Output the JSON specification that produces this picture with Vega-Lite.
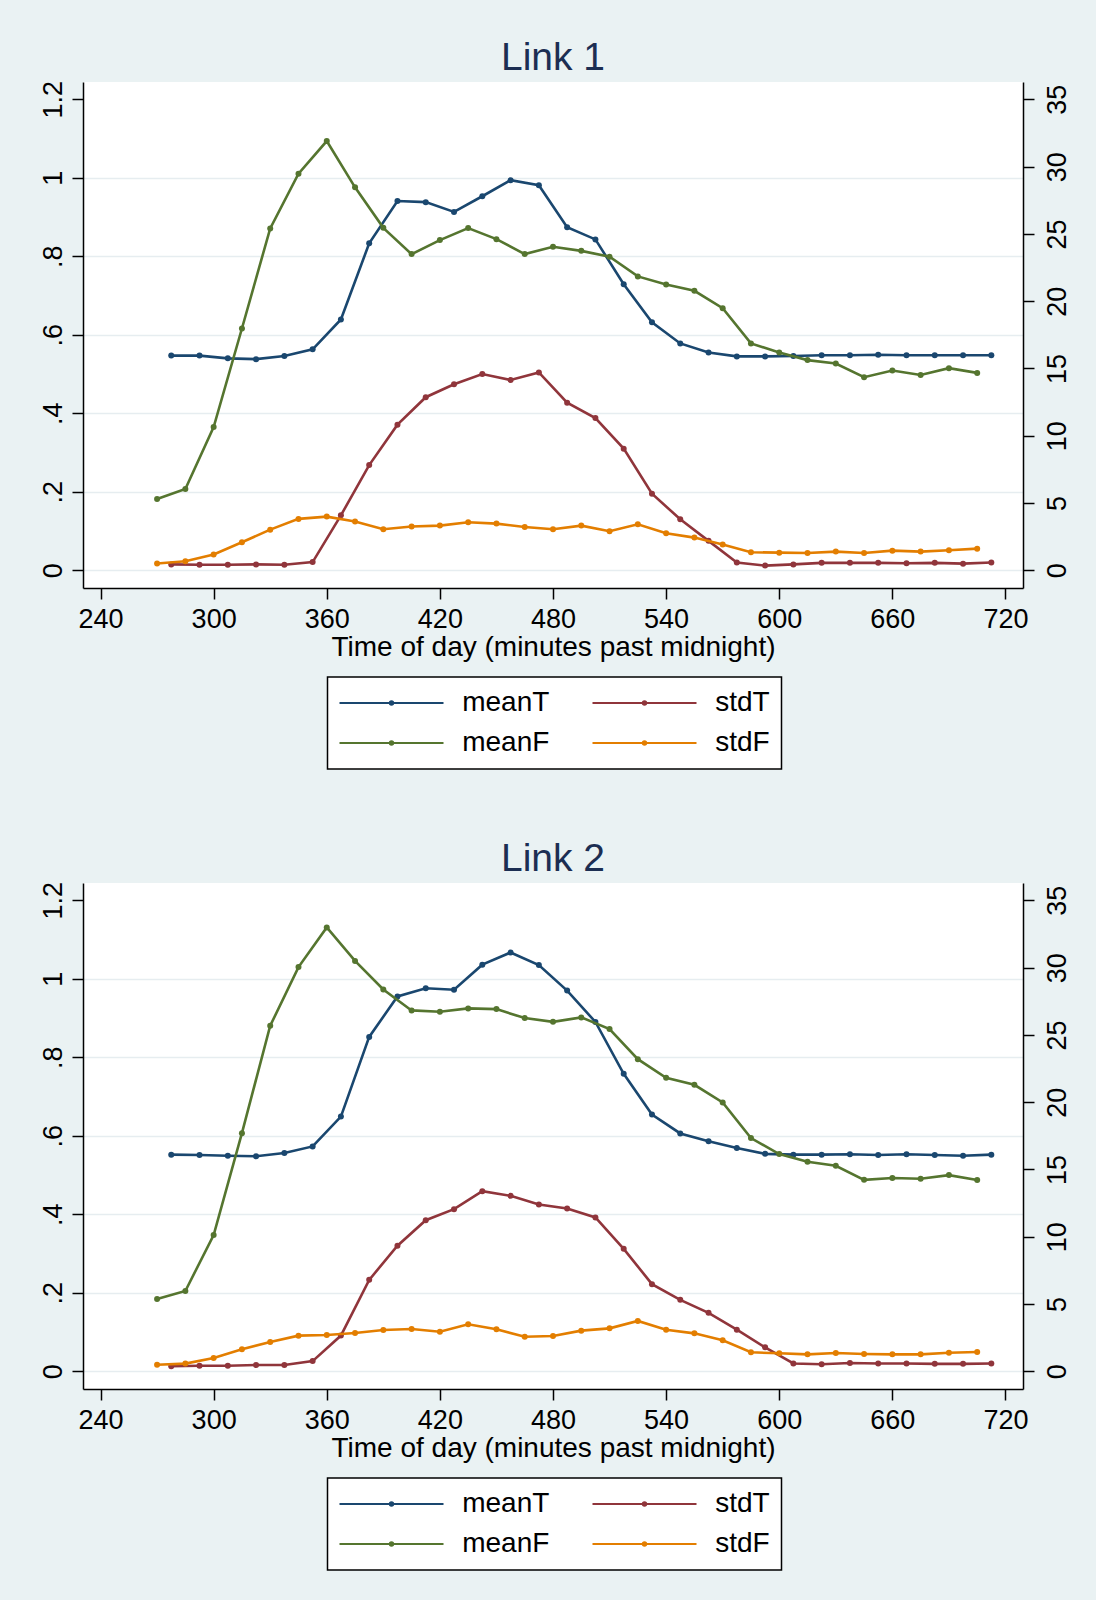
{
  "$schema": "https://vega.github.io/schema/vega-lite/v6.json",
  "background": "#EAF2F3",
  "padding": {"left": 39, "top": 38, "right": 60, "bottom": 60},
  "datasets": {
    "l1T": [
      {"t": 277.5, "meanT": 0.547, "stdT": 0.015}, {"t": 292.5, "meanT": 0.547, "stdT": 0.014},
      {"t": 307.5, "meanT": 0.540, "stdT": 0.014}, {"t": 322.5, "meanT": 0.538, "stdT": 0.015},
      {"t": 337.5, "meanT": 0.546, "stdT": 0.014}, {"t": 352.5, "meanT": 0.563, "stdT": 0.021},
      {"t": 367.5, "meanT": 0.639, "stdT": 0.140}, {"t": 382.5, "meanT": 0.833, "stdT": 0.268},
      {"t": 397.5, "meanT": 0.941, "stdT": 0.371}, {"t": 412.5, "meanT": 0.938, "stdT": 0.441},
      {"t": 427.5, "meanT": 0.913, "stdT": 0.474}, {"t": 442.5, "meanT": 0.953, "stdT": 0.500},
      {"t": 457.5, "meanT": 0.994, "stdT": 0.485}, {"t": 472.5, "meanT": 0.981, "stdT": 0.504},
      {"t": 487.5, "meanT": 0.874, "stdT": 0.427}, {"t": 502.5, "meanT": 0.843, "stdT": 0.388},
      {"t": 517.5, "meanT": 0.729, "stdT": 0.310}, {"t": 532.5, "meanT": 0.632, "stdT": 0.195},
      {"t": 547.5, "meanT": 0.578, "stdT": 0.130}, {"t": 562.5, "meanT": 0.555, "stdT": 0.075},
      {"t": 577.5, "meanT": 0.545, "stdT": 0.020}, {"t": 592.5, "meanT": 0.545, "stdT": 0.012},
      {"t": 607.5, "meanT": 0.546, "stdT": 0.015}, {"t": 622.5, "meanT": 0.548, "stdT": 0.019},
      {"t": 637.5, "meanT": 0.548, "stdT": 0.019}, {"t": 652.5, "meanT": 0.549, "stdT": 0.019},
      {"t": 667.5, "meanT": 0.548, "stdT": 0.018}, {"t": 682.5, "meanT": 0.548, "stdT": 0.019},
      {"t": 697.5, "meanT": 0.548, "stdT": 0.017}, {"t": 712.5, "meanT": 0.548, "stdT": 0.020}
    ],
    "l1F": [
      {"t": 270, "meanF": 5.30, "stdF": 0.50}, {"t": 285, "meanF": 6.04, "stdF": 0.67},
      {"t": 300, "meanF": 10.65, "stdF": 1.17}, {"t": 315, "meanF": 17.97, "stdF": 2.08},
      {"t": 330, "meanF": 25.41, "stdF": 3.02}, {"t": 345, "meanF": 29.47, "stdF": 3.82},
      {"t": 360, "meanF": 31.90, "stdF": 3.99}, {"t": 375, "meanF": 28.46, "stdF": 3.62},
      {"t": 390, "meanF": 25.45, "stdF": 3.05}, {"t": 405, "meanF": 23.50, "stdF": 3.25},
      {"t": 420, "meanF": 24.54, "stdF": 3.32}, {"t": 435, "meanF": 25.43, "stdF": 3.57},
      {"t": 450, "meanF": 24.61, "stdF": 3.47}, {"t": 465, "meanF": 23.50, "stdF": 3.22},
      {"t": 480, "meanF": 24.04, "stdF": 3.05}, {"t": 495, "meanF": 23.74, "stdF": 3.32},
      {"t": 510, "meanF": 23.30, "stdF": 2.90}, {"t": 525, "meanF": 21.84, "stdF": 3.42},
      {"t": 540, "meanF": 21.24, "stdF": 2.75}, {"t": 555, "meanF": 20.77, "stdF": 2.43},
      {"t": 570, "meanF": 19.48, "stdF": 1.91}, {"t": 585, "meanF": 16.86, "stdF": 1.34},
      {"t": 600, "meanF": 16.19, "stdF": 1.31}, {"t": 615, "meanF": 15.62, "stdF": 1.29},
      {"t": 630, "meanF": 15.37, "stdF": 1.39}, {"t": 645, "meanF": 14.35, "stdF": 1.29},
      {"t": 660, "meanF": 14.85, "stdF": 1.46}, {"t": 675, "meanF": 14.52, "stdF": 1.39},
      {"t": 690, "meanF": 15.02, "stdF": 1.49}, {"t": 705, "meanF": 14.67, "stdF": 1.61}
    ],
    "l2T": [
      {"t": 277.5, "meanT": 0.552, "stdT": 0.013}, {"t": 292.5, "meanT": 0.551, "stdT": 0.014},
      {"t": 307.5, "meanT": 0.549, "stdT": 0.014}, {"t": 322.5, "meanT": 0.548, "stdT": 0.016},
      {"t": 337.5, "meanT": 0.556, "stdT": 0.016}, {"t": 352.5, "meanT": 0.573, "stdT": 0.026},
      {"t": 367.5, "meanT": 0.649, "stdT": 0.091}, {"t": 382.5, "meanT": 0.852, "stdT": 0.233},
      {"t": 397.5, "meanT": 0.955, "stdT": 0.320}, {"t": 412.5, "meanT": 0.976, "stdT": 0.385},
      {"t": 427.5, "meanT": 0.972, "stdT": 0.413}, {"t": 442.5, "meanT": 1.036, "stdT": 0.459},
      {"t": 457.5, "meanT": 1.067, "stdT": 0.447}, {"t": 472.5, "meanT": 1.035, "stdT": 0.425},
      {"t": 487.5, "meanT": 0.970, "stdT": 0.415}, {"t": 502.5, "meanT": 0.890, "stdT": 0.392},
      {"t": 517.5, "meanT": 0.758, "stdT": 0.312}, {"t": 532.5, "meanT": 0.654, "stdT": 0.222},
      {"t": 547.5, "meanT": 0.606, "stdT": 0.182}, {"t": 562.5, "meanT": 0.586, "stdT": 0.149},
      {"t": 577.5, "meanT": 0.569, "stdT": 0.106}, {"t": 592.5, "meanT": 0.554, "stdT": 0.061},
      {"t": 607.5, "meanT": 0.552, "stdT": 0.020}, {"t": 622.5, "meanT": 0.552, "stdT": 0.018},
      {"t": 637.5, "meanT": 0.553, "stdT": 0.021}, {"t": 652.5, "meanT": 0.551, "stdT": 0.020},
      {"t": 667.5, "meanT": 0.553, "stdT": 0.020}, {"t": 682.5, "meanT": 0.551, "stdT": 0.019},
      {"t": 697.5, "meanT": 0.549, "stdT": 0.019}, {"t": 712.5, "meanT": 0.552, "stdT": 0.020}
    ],
    "l2F": [
      {"t": 270, "meanF": 5.37, "stdF": 0.49}, {"t": 285, "meanF": 5.97, "stdF": 0.57},
      {"t": 300, "meanF": 10.13, "stdF": 0.99}, {"t": 315, "meanF": 17.70, "stdF": 1.63},
      {"t": 330, "meanF": 25.68, "stdF": 2.18}, {"t": 345, "meanF": 30.04, "stdF": 2.65},
      {"t": 360, "meanF": 32.99, "stdF": 2.70}, {"t": 375, "meanF": 30.50, "stdF": 2.85},
      {"t": 390, "meanF": 28.38, "stdF": 3.07}, {"t": 405, "meanF": 26.82, "stdF": 3.14},
      {"t": 420, "meanF": 26.72, "stdF": 2.94}, {"t": 435, "meanF": 26.97, "stdF": 3.49},
      {"t": 450, "meanF": 26.92, "stdF": 3.12}, {"t": 465, "meanF": 26.25, "stdF": 2.57},
      {"t": 480, "meanF": 25.97, "stdF": 2.62}, {"t": 495, "meanF": 26.30, "stdF": 3.02},
      {"t": 510, "meanF": 25.43, "stdF": 3.19}, {"t": 525, "meanF": 23.20, "stdF": 3.74},
      {"t": 540, "meanF": 21.81, "stdF": 3.09}, {"t": 555, "meanF": 21.29, "stdF": 2.82},
      {"t": 570, "meanF": 19.98, "stdF": 2.30}, {"t": 585, "meanF": 17.33, "stdF": 1.41},
      {"t": 600, "meanF": 16.14, "stdF": 1.34}, {"t": 615, "meanF": 15.57, "stdF": 1.26},
      {"t": 630, "meanF": 15.27, "stdF": 1.36}, {"t": 645, "meanF": 14.23, "stdF": 1.29},
      {"t": 660, "meanF": 14.36, "stdF": 1.26}, {"t": 675, "meanF": 14.31, "stdF": 1.26},
      {"t": 690, "meanF": 14.58, "stdF": 1.38}, {"t": 705, "meanF": 14.21, "stdF": 1.43}
    ]
  },
  "vconcat": [
    {
      "title": "Link 1",
      "width": 940,
      "height": 506,
      "layer": [
        {
          "data": {"name": "l1T"},
          "transform": [{"fold": ["meanT", "stdT"], "as": ["series", "v"]}],
          "mark": {"type": "line", "strokeWidth": 2.6, "point": {"filled": true, "size": 36}},
          "encoding": {
            "x": {"field": "t", "type": "quantitative",
                  "scale": {"domain": [230.7, 729.3], "nice": false, "zero": false},
                  "axis": {"values": [240, 300, 360, 420, 480, 540, 600, 660, 720], "title": "Time of day (minutes past midnight)", "labelPadding": 7, "titlePadding": 1}},
            "y": {"field": "v", "type": "quantitative",
                  "scale": {"domain": [-0.0451, 1.2441], "nice": false, "zero": false},
                  "axis": {"orient": "left", "values": [0, 0.2, 0.4, 0.6, 0.8, 1, 1.2], "title": null,
                           "labelExpr": "datum.value > 0 && datum.value < 1 ? replace(format(datum.value, '.1f'), '0.', '.') : format(datum.value, '~g')",
                           "labelAngle": -90, "labelAlign": "center", "labelBaseline": "bottom", "labelPadding": 5,
                           "grid": true, "gridColor": "#E6EDF0", "gridWidth": 1.5,
                           "gridOpacity": {"condition": {"test": "datum.value > 1.1", "value": 0}, "value": 1}}},
            "color": {"field": "series", "type": "nominal",
                      "scale": {"domain": ["meanT", "stdT", "meanF", "stdF"], "range": ["#1A476F", "#90353B", "#55752F", "#E37E00"]},
                      "legend": {"orient": "none", "legendX": 244.5, "legendY": 595}}
          }
        },
        {
          "data": {"name": "l1F"},
          "transform": [{"fold": ["meanF", "stdF"], "as": ["series", "v"]}],
          "mark": {"type": "line", "strokeWidth": 2.6, "point": {"filled": true, "size": 36}},
          "encoding": {
            "x": {"field": "t", "type": "quantitative"},
            "y": {"field": "v", "type": "quantitative",
                  "scale": {"domain": [-1.316, 36.29], "nice": false, "zero": false},
                  "axis": {"orient": "right", "values": [0, 5, 10, 15, 20, 25, 30, 35], "title": null,
                           "labelAngle": -90, "labelAlign": "center", "labelBaseline": "top", "labelPadding": 10, "grid": false}},
            "color": {"field": "series", "type": "nominal",
                      "scale": {"domain": ["meanT", "stdT", "meanF", "stdF"], "range": ["#1A476F", "#90353B", "#55752F", "#E37E00"]},
                      "legend": {"orient": "none", "legendX": 244.5, "legendY": 595}}
          }
        }
      ],
      "resolve": {"scale": {"y": "independent"}, "axis": {"y": "independent"}}
    },
    {
      "title": "Link 2",
      "width": 940,
      "height": 506,
      "layer": [
        {
          "data": {"name": "l2T"},
          "transform": [{"fold": ["meanT", "stdT"], "as": ["series", "v"]}],
          "mark": {"type": "line", "strokeWidth": 2.6, "point": {"filled": true, "size": 36}},
          "encoding": {
            "x": {"field": "t", "type": "quantitative",
                  "scale": {"domain": [230.7, 729.3], "nice": false, "zero": false},
                  "axis": {"values": [240, 300, 360, 420, 480, 540, 600, 660, 720], "title": "Time of day (minutes past midnight)", "labelPadding": 7, "titlePadding": 1}},
            "y": {"field": "v", "type": "quantitative",
                  "scale": {"domain": [-0.0451, 1.2441], "nice": false, "zero": false},
                  "axis": {"orient": "left", "values": [0, 0.2, 0.4, 0.6, 0.8, 1, 1.2], "title": null,
                           "labelExpr": "datum.value > 0 && datum.value < 1 ? replace(format(datum.value, '.1f'), '0.', '.') : format(datum.value, '~g')",
                           "labelAngle": -90, "labelAlign": "center", "labelBaseline": "bottom", "labelPadding": 5,
                           "grid": true, "gridColor": "#E6EDF0", "gridWidth": 1.5,
                           "gridOpacity": {"condition": {"test": "datum.value > 1.1", "value": 0}, "value": 1}}},
            "color": {"field": "series", "type": "nominal",
                      "scale": {"domain": ["meanT", "stdT", "meanF", "stdF"], "range": ["#1A476F", "#90353B", "#55752F", "#E37E00"]},
                      "legend": {"orient": "none", "legendX": 244.5, "legendY": 595}}
          }
        },
        {
          "data": {"name": "l2F"},
          "transform": [{"fold": ["meanF", "stdF"], "as": ["series", "v"]}],
          "mark": {"type": "line", "strokeWidth": 2.6, "point": {"filled": true, "size": 36}},
          "encoding": {
            "x": {"field": "t", "type": "quantitative"},
            "y": {"field": "v", "type": "quantitative",
                  "scale": {"domain": [-1.316, 36.29], "nice": false, "zero": false},
                  "axis": {"orient": "right", "values": [0, 5, 10, 15, 20, 25, 30, 35], "title": null,
                           "labelAngle": -90, "labelAlign": "center", "labelBaseline": "top", "labelPadding": 10, "grid": false}},
            "color": {"field": "series", "type": "nominal",
                      "scale": {"domain": ["meanT", "stdT", "meanF", "stdF"], "range": ["#1A476F", "#90353B", "#55752F", "#E37E00"]},
                      "legend": {"orient": "none", "legendX": 244.5, "legendY": 595}}
          }
        }
      ],
      "resolve": {"scale": {"y": "independent"}, "axis": {"y": "independent"}}
    }
  ],
  "spacing": 69,
  "resolve": {"legend": {"color": "independent"}},
  "config": {
    "font": "Liberation Sans",
    "view": {"stroke": null, "fill": "#FFFFFF"},
    "axis": {
      "domainColor": "#000000", "domainWidth": 1.5,
      "tickColor": "#000000", "tickWidth": 1.5, "tickSize": 11,
      "labelColor": "#000000", "labelFont": "Liberation Sans", "labelFontSize": 27,
      "titleColor": "#000000", "titleFont": "Liberation Sans", "titleFontSize": 28, "titleFontWeight": "normal",
      "labelOverlap": false, "labelFlush": false, "grid": false
    },
    "title": {"font": "Liberation Sans", "fontSize": 39, "fontWeight": "normal", "color": "#1C2E52", "anchor": "middle", "baseline": "alphabetic", "offset": 3},
    "legend": {
      "title": null, "columns": 2, "direction": "horizontal",
      "symbolType": "M-1,0H1M0.035,0A0.035,0.035,0,1,1,-0.035,0A0.035,0.035,0,1,1,0.035,0Z",
      "symbolSize": 10816, "symbolStrokeWidth": 1.8,
      "labelFont": "Liberation Sans", "labelFontSize": 28, "labelColor": "#000000", "labelLimit": 0,
      "labelOffset": 17.7, "columnPadding": 42, "rowPadding": 10, "clipHeight": 30,
      "padding": 11, "strokeColor": "#000000", "strokeWidth": 1.5, "fillColor": "#FFFFFF", "cornerRadius": 0
    }
  }
}
